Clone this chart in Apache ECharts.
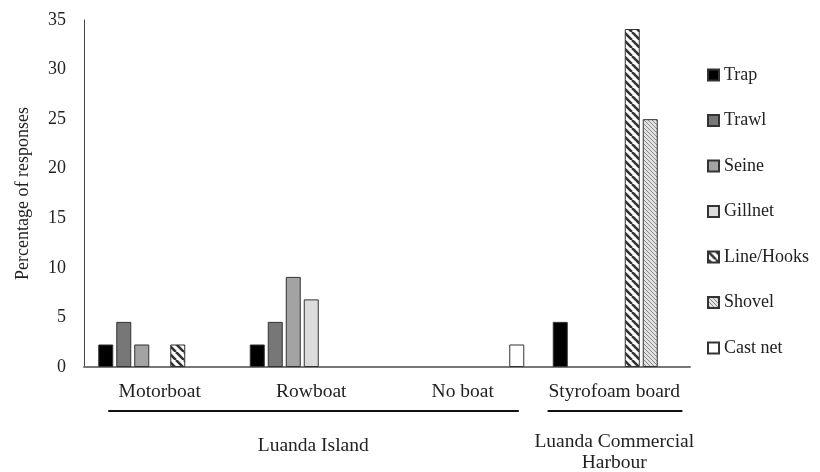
<!DOCTYPE html>
<html>
<head>
<meta charset="utf-8">
<script src="https://cdn.jsdelivr.net/npm/echarts@6/dist/echarts.min.js"></script>
<style>html,body{margin:0;padding:0;background:#fff}#c{width:820px;height:472px}</style>
</head>
<body>
<div id="c"></div>
<script>
// ---- data ----
const categories = ['Motorboat', 'Rowboat', 'No boat', 'Styrofoam board'];
const seriesNames = ['Trap', 'Trawl', 'Seine', 'Gillnet', 'Line/Hooks', 'Shovel', 'Cast net'];
const trap      = [2.27, 2.27, 0, 4.55];
const trawl     = [4.55, 4.55, 0, 0];
const seine     = [2.27, 9.09, 0, 0];
const gillnet   = [0, 6.82, 0, 0];
const lineHooks = [2.27, 0, 0, 34.09];
const shovel    = [0, 0, 0, 25.0];
const castNet   = [0, 0, 2.27, 0];
const yTicks = { min: 0, max: 35, interval: 5 };
const groupNames = ['Luanda Island', 'Luanda Commercial\nHarbour'];
const groupSpans = [[0, 2], [3, 3]];

const fam = 'Liberation Serif';
const txt = '#222';

function stripes(size, lw, fg, bg) {
  const c = document.createElement('canvas');
  c.width = size; c.height = size;
  const g = c.getContext('2d');
  g.fillStyle = bg; g.fillRect(0, 0, size, size);
  g.strokeStyle = fg; g.lineWidth = lw;
  g.beginPath();
  for (const k of [-size, 0, size]) { g.moveTo(k, 0); g.lineTo(k + size, size); }
  g.stroke();
  return { image: c, repeat: 'repeat' };
}

const fills = [
  '#000000',
  '#777777',
  '#a3a3a3',
  '#dcdcdc',
  stripes(8, 2.6, '#333333', '#ffffff'),
  stripes(4, 1, '#8a8a8a', '#e2e2e2'),
  '#ffffff'
];
const values = [trap, trawl, seine, gillnet, lineHooks, shovel, castNet];

const chart = echarts.init(document.getElementById('c'), null, { renderer: 'canvas' });

const option = {
  animation: false,
  backgroundColor: '#fff',
  grid: { left: 84, right: 130, top: 20, bottom: 105 },
  legend: {
    orient: 'vertical', left: 702, top: 61,
    itemWidth: 11, itemHeight: 11, itemGap: 27.5, icon: 'rect',
    textStyle: { fontFamily: fam, fontSize: 18, color: txt, lineHeight: 18 },
    data: seriesNames
  },
  xAxis: {
    type: 'category', data: categories,
    axisTick: { show: false },
    axisLine: { lineStyle: { color: '#777', width: 2 } },
    axisLabel: { fontFamily: fam, fontSize: 19.5, color: txt, margin: 15, interval: 0 }
  },
  yAxis: {
    type: 'value', min: yTicks.min, max: yTicks.max, interval: yTicks.interval,
    splitLine: { show: false },
    axisTick: { show: false },
    axisLine: { show: true, lineStyle: { color: '#444', width: 1 } },
    axisLabel: { fontFamily: fam, fontSize: 18, color: txt, margin: 18 },
    name: 'Percentage of responses', nameLocation: 'middle', nameGap: 52,
    nameTextStyle: { fontFamily: fam, fontSize: 18, color: txt }
  },
  series: seriesNames.map((n, i) => ({
    name: n, type: 'bar', barWidth: 15, barGap: '20%',
    data: values[i].map(v => v === 0 ? null : v),
    itemStyle: { color: fills[i], borderColor: '#333', borderWidth: 1 }
  }))
};
chart.setOption(option);

// group labels under the category axis, positioned through the axis scale
const c0 = chart.convertToPixel({ xAxisIndex: 0 }, 0);
const c1 = chart.convertToPixel({ xAxisIndex: 0 }, 1);
const bw = c1 - c0;
const yBase = chart.convertToPixel({ yAxisIndex: 0 }, 0);
const insets = [[0.34, 0.37], [0.44, 0.45]];
const graphics = [];
groupSpans.forEach((s, gi) => {
  const a = chart.convertToPixel({ xAxisIndex: 0 }, s[0]);
  const b = chart.convertToPixel({ xAxisIndex: 0 }, s[1]);
  graphics.push({
    type: 'line',
    shape: { x1: a - insets[gi][0] * bw, y1: yBase + 44, x2: b + insets[gi][1] * bw, y2: yBase + 44 },
    style: { stroke: '#111', lineWidth: 2.2 }
  });
  const multi = groupNames[gi].indexOf('\n') >= 0;
  graphics.push({
    type: 'text',
    x: (a + b) / 2 + (gi === 0 ? 2 : 0),
    y: yBase + (multi ? 85 : 79),
    style: {
      text: groupNames[gi], fontFamily: fam, fontSize: 19.5, fill: txt,
      align: 'center', verticalAlign: 'middle', lineHeight: 21
    }
  });
});
chart.setOption({ graphic: graphics });
</script>
</body>
</html>
